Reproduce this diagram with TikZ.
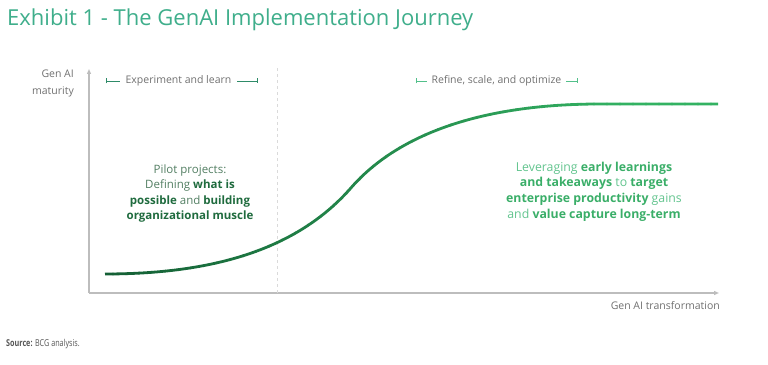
\documentclass[tikz,border=0pt]{standalone}
\usepackage{fontspec}
\setmainfont{Open Sans}
\usetikzlibrary{arrows.meta}
\definecolor{titlec}{HTML}{3FAE8B}
\definecolor{axisc}{HTML}{BDBDBD}
\definecolor{dashc}{HTML}{DADADA}
\definecolor{graytext}{HTML}{707070}
\definecolor{brackL}{HTML}{2E8B68}
\definecolor{brackR}{HTML}{52C08A}
\definecolor{leftreg}{HTML}{527E62}
\definecolor{leftbold}{HTML}{1F6B3E}
\definecolor{rightreg}{HTML}{62C48E}
\definecolor{rightbold}{HTML}{3AAE68}
\definecolor{curveL}{HTML}{145F35}
\definecolor{curveR}{HTML}{33B262}
\definecolor{srcc}{HTML}{555555}
\newcommand\sCurvePath{(105,90) .. controls (210,90) and (295,113) .. (350,175) .. controls (392,224) and (470,260) .. (600,260) -- (718,260)}
\tikzset{
  axisline/.style={draw=axisc, line width=1.2pt, -{Triangle[length=5pt,width=4pt]}},
  phasetxt/.style={inner sep=0pt, text=graytext, font=\fontsize{10.5}{12}\selectfont},
  brackline/.style={line width=0.9pt, {Bar[width=5pt]}-},
  smalltxt/.style={inner sep=0pt, text=graytext, font=\fontsize{10.5}{17}\selectfont},
  blocktxt/.style={inner sep=0pt, align=center}
}
\begin{document}
\begin{tikzpicture}[x=1pt,y=1pt]
\useasboundingbox (0,0) rectangle (768,364);
% title
\node[anchor=west, inner sep=0pt, text=titlec, font=\fontsize{22}{26}\selectfont] (title) at (7,344) {Exhibit 1 - The GenAI Implementation Journey};
% axes
\coordinate (origin) at (89,71);
\coordinate (ytop) at (89,295);
\coordinate (xend) at (719,71);
\draw[axisline] (origin) -- (ytop);
\draw[axisline] (origin) -- (xend);
% dashed divider
\coordinate (dbot) at (277,71);
\coordinate (dtop) at (277,296);
\draw[dashc, line width=0.8pt, dash pattern=on 3pt off 3pt] (dbot) -- (dtop);
% axis labels
\node[smalltxt, anchor=east, align=right] (ylab) at (74,280.5) {Gen AI\\maturity};
\node[smalltxt, anchor=east] (xlab) at (720,58) {Gen AI transformation};
% phase labels
\node[phasetxt] (exp) at (178.5,283) {Experiment and learn};
\coordinate (expL) at (106,283);
\coordinate (expR) at (258,283);
\draw[brackline, draw=brackL] (expL) -- ([xshift=-5pt]exp.west);
\draw[brackline, draw=brackL] (expR) -- ([xshift=5pt]exp.east);
\node[phasetxt] (ref) at (496.5,283) {Refine, scale, and optimize};
\coordinate (refL) at (416,283);
\coordinate (refR) at (578,283);
\draw[brackline, draw=brackR] (refL) -- ([xshift=-4pt]ref.west);
\draw[brackline, draw=brackR] (refR) -- ([xshift=4pt]ref.east);
% curve with gradient
\foreach \i in {0,...,47} {
  \pgfmathsetmacro\xa{100+\i*13-0.4}
  \pgfmathsetmacro\xb{100+(\i+1)*13+0.4}
  \pgfmathtruncatemacro\p{min(100,\i*100/40)}
  \colorlet{segc}{curveR!\p!curveL}
  \begin{scope}
    \clip (\xa,0) rectangle (\xb,364);
    \draw[segc, line width=2.8pt] \sCurvePath;
  \end{scope}
}
% text blocks
\node[blocktxt, text=leftreg, font=\fontsize{11.5}{15.3}\selectfont] (leftblock) at (190,170.5) {Pilot projects:\\Defining \textcolor{leftbold}{\bfseries what is}\\\textcolor{leftbold}{\bfseries possible} and \textcolor{leftbold}{\bfseries building}\\\textcolor{leftbold}{\bfseries organizational muscle}};
\node[blocktxt, text=rightreg, font=\fontsize{12.3}{15.6}\selectfont] (rightblock) at (594,172.5) {Leveraging \textcolor{rightbold}{\bfseries early learnings}\\\textcolor{rightbold}{\bfseries and takeaways} to \textcolor{rightbold}{\bfseries target}\\\textcolor{rightbold}{\bfseries enterprise productivity} gains\\and \textcolor{rightbold}{\bfseries value capture long-term}};
% source
\node[anchor=west, inner sep=0pt, text=srcc, font=\fontsize{9.5}{11}\selectfont] (src) at (6,20) {\scalebox{0.76}[1]{\textbf{Source:} BCG analysis.}};
\end{tikzpicture}
\end{document}
